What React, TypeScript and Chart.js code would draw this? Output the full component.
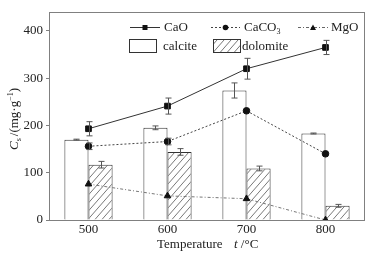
import React, { useEffect, useRef } from "react";
import { Chart, registerables } from "chart.js";

Chart.register(...registerables);

const categories = ["500", "600", "700", "800"];
const calcite = [170, 195, 274, 183];
const calciteErr = [1, 4, 16, 1];
const dolomite = [117, 144, 109, 30];
const dolomiteErr = [7, 7, 5, 3];
const cao = [193, 241, 320, 365];
const caoErr = [15, 17, 22, 15];
const caco3 = [156, 166, 231, 140];
const caco3Err = [7, 7, 0, 0];
const mgo = [76, 51, 45, 0];
const yTicks = [0, 100, 200, 300, 400];

const SERIF = "'Liberation Serif', 'Times New Roman', serif";
const TEXT = "#222";
const FRAME = "#808080";

function makeHatch(): CanvasPattern | string {
  const c = document.createElement("canvas");
  c.width = 7;
  c.height = 8;
  const g = c.getContext("2d");
  if (!g) return "#fff";
  g.fillStyle = "#fff";
  g.fillRect(0, 0, 7, 8);
  g.strokeStyle = "#555";
  g.lineWidth = 0.8;
  g.beginPath();
  g.moveTo(0, 8);
  g.lineTo(7, 0);
  g.moveTo(-7, 8);
  g.lineTo(0, 0);
  g.moveTo(7, 8);
  g.lineTo(14, 0);
  g.stroke();
  return g.createPattern(c, "repeat") || "#fff";
}

export default function App() {
  const ref = useRef<HTMLCanvasElement | null>(null);
  useEffect(() => {
    if (!ref.current) return;
    const hatch = makeHatch();
    const errMap: Record<number, number[]> = {
      0: caoErr,
      1: caco3Err,
      3: calciteErr,
      4: dolomiteErr,
    };

    const framePlugin = {
      id: "frame",
      beforeDatasetsDraw(chart: any) {
        const { ctx, chartArea: a } = chart;
        ctx.save();
        ctx.strokeStyle = FRAME;
        ctx.lineWidth = 1;
        ctx.strokeRect(a.left + 0.5, a.top + 0.5, a.right - a.left - 1, a.bottom - a.top);
        ctx.restore();
      },
    };

    const errPlugin = {
      id: "errbars",
      afterDatasetsDraw(chart: any) {
        const { ctx } = chart;
        const ys = chart.scales.y;
        ctx.save();
        ctx.strokeStyle = "#555";
        ctx.lineWidth = 1;
        Object.keys(errMap).forEach((k) => {
          const di = Number(k);
          const errs = errMap[di];
          const meta = chart.getDatasetMeta(di);
          const vals = chart.data.datasets[di].data as number[];
          meta.data.forEach((el: any, i: number) => {
            const e = errs[i];
            if (!e) return;
            const x = Math.round(el.x) + 0.5;
            const yt = ys.getPixelForValue(vals[i] + e);
            const yb = ys.getPixelForValue(vals[i] - e);
            ctx.beginPath();
            ctx.moveTo(x, yt);
            ctx.lineTo(x, yb);
            ctx.moveTo(x - 3, yt);
            ctx.lineTo(x + 3, yt);
            ctx.moveTo(x - 3, yb);
            ctx.lineTo(x + 3, yb);
            ctx.stroke();
          });
        });
        ctx.restore();
      },
    };

    const textPlugin = {
      id: "texts",
      afterDraw(chart: any) {
        const { ctx } = chart;
        ctx.save();
        ctx.fillStyle = TEXT;
        ctx.textBaseline = "middle";
        // legend row 1
        const drawLineSample = (x0: number, x1: number, y: number, dash: number[], color: string, style: string) => {
          ctx.save();
          ctx.strokeStyle = color;
          ctx.lineWidth = 1;
          ctx.setLineDash(dash);
          ctx.beginPath();
          ctx.moveTo(x0, y + 0.5);
          ctx.lineTo(x1, y + 0.5);
          ctx.stroke();
          ctx.setLineDash([]);
          ctx.fillStyle = "#111";
          const cx = (x0 + x1) / 2;
          ctx.beginPath();
          if (style === "rect") ctx.rect(cx - 2.5, y - 2, 5, 5);
          else if (style === "circle") ctx.arc(cx, y + 0.5, 2.8, 0, Math.PI * 2);
          else {
            ctx.moveTo(cx, y - 2.5);
            ctx.lineTo(cx + 3, y + 3);
            ctx.lineTo(cx - 3, y + 3);
            ctx.closePath();
          }
          ctx.fill();
          ctx.restore();
        };
        const r1 = 27;
        drawLineSample(130, 160, r1, [], "#333", "rect");
        drawLineSample(211, 240, r1, [2, 2], "#444", "circle");
        drawLineSample(298, 328, r1, [3, 2, 1, 2], "#666", "triangle");
        ctx.font = `13px ${SERIF}`;
        ctx.textAlign = "left";
        ctx.fillText("CaO", 164, r1 + 1);
        ctx.fillText("CaCO", 244, r1 + 1);
        const wc = ctx.measureText("CaCO").width;
        ctx.font = `8px ${SERIF}`;
        ctx.fillText("3", 244 + wc, r1 + 5);
        ctx.font = `13px ${SERIF}`;
        ctx.fillText("MgO", 331, r1 + 1);
        // legend row 2
        const r2 = 45.5;
        ctx.save();
        ctx.strokeStyle = "#333";
        ctx.lineWidth = 1;
        ctx.fillStyle = "#fff";
        ctx.fillRect(129.5, 39.5, 27, 13);
        ctx.strokeRect(129.5, 39.5, 27, 13);
        ctx.fillStyle = hatch as any;
        ctx.fillRect(213.5, 39.5, 27, 13);
        ctx.strokeRect(213.5, 39.5, 27, 13);
        ctx.restore();
        ctx.fillText("calcite", 163, r2 + 1);
        ctx.fillText("dolomite", 242, r2 + 1);

        // x title
        ctx.font = `13px ${SERIF}`;
        ctx.fillText("Temperature", 157, 245);
        ctx.font = `italic 13px ${SERIF}`;
        ctx.fillText("t", 234, 245);
        const wt = ctx.measureText("t").width;
        ctx.font = `13px ${SERIF}`;
        ctx.fillText(" /\u00B0C", 234 + wt, 245);

        // y title
        ctx.translate(15, 150);
        ctx.rotate(-Math.PI / 2);
        let x = 0;
        ctx.font = `italic 13px ${SERIF}`;
        ctx.fillText("C", x, 0);
        x += ctx.measureText("C").width;
        ctx.font = `8px ${SERIF}`;
        ctx.fillText("s", x, 4);
        x += ctx.measureText("s").width + 2;
        ctx.font = `13px ${SERIF}`;
        ctx.fillText("/(mg\u00B7g", x, 0);
        x += ctx.measureText("/(mg\u00B7g").width;
        ctx.font = `8px ${SERIF}`;
        ctx.fillText("\u22121", x, -4);
        x += ctx.measureText("\u22121").width;
        ctx.font = `13px ${SERIF}`;
        ctx.fillText(")", x, 0);
        ctx.restore();
      },
    };

    const chart = new Chart(ref.current, {
      type: "bar",
      data: {
        labels: categories,
        datasets: [
          {
            type: "line",
            label: "CaO",
            data: cao,
            borderColor: "#333",
            borderWidth: 1,
            pointStyle: "rect",
            pointRadius: 4,
            pointBackgroundColor: "#111",
            pointBorderColor: "#111",
            order: 1,
          } as any,
          {
            type: "line",
            label: "CaCO3",
            data: caco3,
            borderColor: "#444",
            borderWidth: 1,
            borderDash: [2, 2],
            pointStyle: "circle",
            pointRadius: 3.3,
            pointBackgroundColor: "#111",
            pointBorderColor: "#111",
            order: 1,
          } as any,
          {
            type: "line",
            label: "MgO",
            data: mgo,
            borderColor: "#777",
            borderWidth: 1,
            borderDash: [3, 2, 1, 2],
            pointStyle: "triangle",
            pointRadius: 3.8,
            pointBackgroundColor: "#111",
            pointBorderColor: "#111",
            order: 1,
          } as any,
          {
            label: "calcite",
            data: calcite,
            backgroundColor: "#fff",
            borderColor: "#333",
            borderWidth: 1,
            barPercentage: 1,
            categoryPercentage: 0.61,
            order: 2,
          },
          {
            label: "dolomite",
            data: dolomite,
            backgroundColor: hatch as any,
            borderColor: "#333",
            borderWidth: 1,
            barPercentage: 1,
            categoryPercentage: 0.61,
            order: 2,
          },
        ],
      },
      options: {
        animation: false,
        responsive: true,
        maintainAspectRatio: false,
        layout: { padding: { top: 12, right: 9, left: 0, bottom: 0 } },
        plugins: { legend: { display: false }, tooltip: { enabled: false } },
        scales: {
          x: {
            grid: { display: false, drawTicks: false },
            border: { display: false },
            ticks: { color: TEXT, font: { family: SERIF, size: 13 }, padding: 2 },
            afterFit: (s: any) => {
              s.height = 39;
            },
          },
          y: {
            min: 0,
            max: 440,
            afterBuildTicks: (s: any) => {
              s.ticks = yTicks.map((v) => ({ value: v }));
            },
            grid: { drawOnChartArea: false, drawTicks: true, tickLength: 3, color: FRAME },
            border: { display: false },
            ticks: { color: TEXT, font: { family: SERIF, size: 13 }, padding: 3 },
            afterFit: (s: any) => {
              s.width = 49;
            },
          },
        },
      },
      plugins: [framePlugin, errPlugin, textPlugin],
    });
    return () => chart.destroy();
  }, []);
  return (
    <div style={{ position: "fixed", left: 0, top: 0, width: 374, height: 259, background: "#fff" }}>
      <canvas ref={ref} />
    </div>
  );
}
